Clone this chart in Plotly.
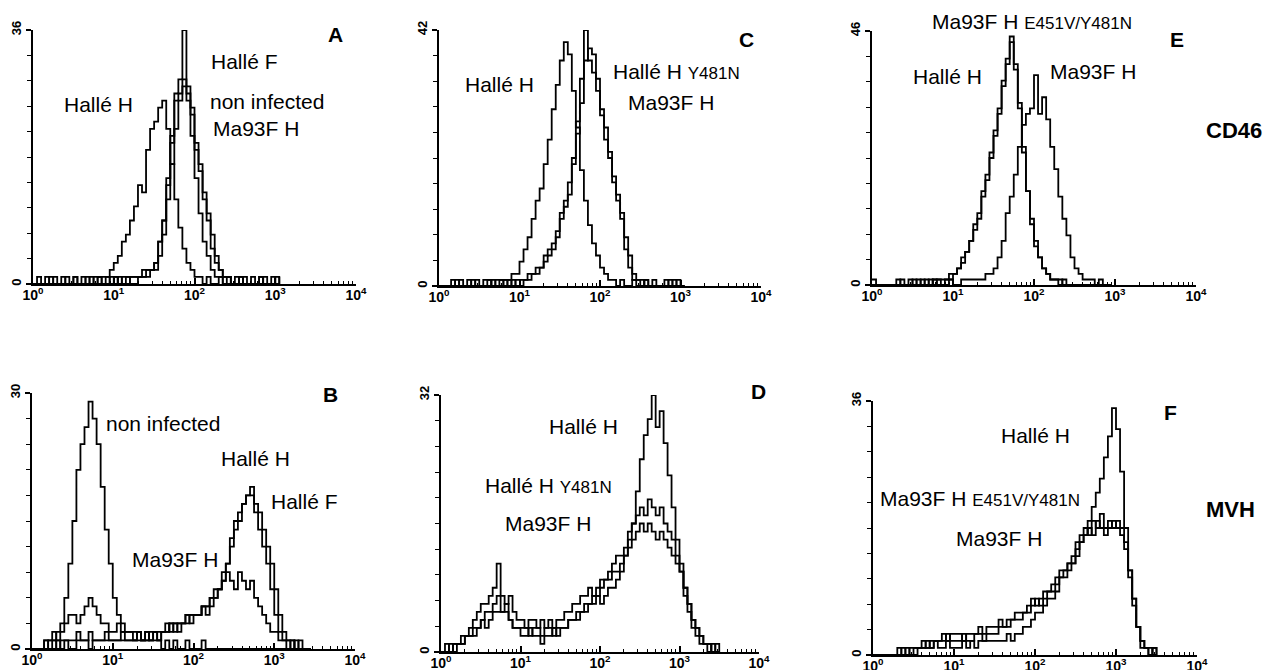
import plotly.graph_objects as go

# ---------------- data: cell counts per log-fluorescence channel ----------------
# channel i is at log10(fluorescence) = i * 0.05 (10^0 ... 10^4)
LOG_STEP = 0.05

# Panel A (CD46, y max 36)
A_HALLE_H = [0,0,0,1,0,0,0,1,0,0, 1,0,0,1,0,1,1,1,1,2, 3,4,6,7,9,11,14,13,19,22,
             23,25,26,22,17,12,8,5,3,2, 1,1,0,1,0,0,1,0,0,0, 0,1,0,0,0,0,1,0,0,0,1,0]
A_HALLE_F = [0,0,0,0,0,1,0,0,0,0, 0,0,1,0,0,0,1,0,0,1, 1,0,1,1,1,1,1,2,2,2,
             3,6,9,14,21,27,29,36,28,21, 15,10,6,4,2,1,1,0,1,0, 0,0,1,0,0,0,0,1,0,0,0,1]
A_NON_INF = [0,1,0,0,0,0,0,0,1,0, 0,0,0,0,1,0,0,0,1,0, 0,1,0,0,1,1,1,1,2,2,
             3,6,9,15,20,26,27,29,27,25, 19,16,12,9,5,3,2,1,1,0, 1,0,0,0,1,0,0,0,0,1,0,0]
A_MA93F_H = [0,0,0,0,1,0,0,0,0,0, 1,0,0,0,0,0,1,0,0,0, 1,0,0,1,0,0,1,1,1,2,
             2,4,7,12,17,22,26,28,26,24, 20,17,13,10,7,4,2,1,1,0, 0,1,0,0,0,0,1,0,0,0,0,0]

# Panel C (CD46, y max 42)
C_HALLE_H = [0,0,0,0,1,0,0,1,0,0, 0,1,1,0,1,1,1,1,2,2, 4,6,8,11,14,16,20,24,29,33,
             37,40,38,32,26,19,14,10,7,5, 3,2,1,1,0,1,0,0,1,0, 0,1,0,0,0,0,0,1,0,0,0,0]
C_HALLE_H_Y481N = [0,0,0,0,0,1,0,0,1,0, 0,0,1,0,0,1,0,1,0,1, 1,1,2,2,3,3,4,5,7,8,
                   11,13,17,21,27,34,42,37,35,32, 28,24,21,17,14,11,6,3,1,1, 0,1,0,0,0,0,1,0,0,1,0,0]
C_MA93F_H = [0,0,0,1,0,0,0,0,0,1, 0,0,0,1,0,0,1,0,1,0, 0,1,1,2,2,3,5,6,6,9,
             12,14,15,20,25,30,37,39,38,34, 29,26,22,18,15,12,8,5,2,1, 1,0,0,1,0,0,0,0,1,0,0,0]

# Panel E (CD46, y max 46)
E_HALLE_H = [1,0,0,0,0,0,0,0,0,1, 0,0,1,0,1,0,1,1,1,2, 2,3,4,6,8,10,13,16,20,23,
             27,32,36,40,45,39,32,25,17,11, 8,5,3,2,1,1,0,1,0,0, 0,0,0,0,0,0,0,0,0,0]
E_MA93F_H_E451V_Y481N = [0,0,0,0,0,0,1,0,0,0, 1,0,0,1,0,1,1,0,1,1, 2,3,5,6,8,11,12,17,19,24,
                         28,31,37,41,44,40,33,24,17,12, 7,5,3,2,1,1,1,0,0,0, 0,0,0,0,0,0,0,0,0,0]
E_MA93F_H = [0,0,0,0,0,0,0,1,0,0, 0,1,0,0,0,1,0,0,0,1, 0,0,1,1,1,1,1,1,2,2,
             3,5,8,13,16,20,25,29,31,32, 38,31,34,30,25,21,16,12,9,5, 3,2,1,1,1,0,1,0,0,0]

# Panel B (MVH, y max 30)
B_NON_INF = [0,0,0,1,1,1,2,3,6,10, 15,21,24,26,29,27,24,19,14,10, 6,4,3,2,2,2,2,1,2,1,
             1,1,0,1,0,1,0,0,1,0, 0,0,1,0,0,0,0,0,0,0, 0,0,0,0,0,0,0,0,0,0, 0,0,0,0,0,0,0,0,0,0]
B_MA93F_H = [0,0,0,0,1,2,1,2,3,4, 4,3,4,5,6,5,4,3,3,2, 2,3,2,2,2,1,2,1,1,1,
             2,1,2,2,3,2,3,3,4,4, 4,4,5,5,6,7,7,8,9,8, 7,9,8,7,8,6,5,4,3,2, 2,1,1,0,1,0,0,0,0,0]
B_HALLE_H = [0,0,0,0,0,1,0,1,1,1, 1,2,1,1,2,1,1,1,2,1, 1,1,1,1,1,1,1,1,1,2,
             2,2,2,3,2,3,3,3,4,3, 4,4,5,5,6,6,7,9,10,13, 15,16,17,18,18,16,14,12,10,7, 4,2,1,1,0,1,0,0,0,0]
B_HALLE_F = [0,0,0,1,0,0,1,0,1,0, 0,1,1,1,0,1,1,1,1,1, 1,1,2,1,1,1,2,1,2,1,
             2,1,2,2,3,3,2,3,3,4, 4,4,5,4,5,6,7,8,10,12, 14,15,17,18,19,17,16,14,12,10, 7,4,2,1,1,0,1,0,0,0]

# Panel D (MVH, y max 32)
D_HALLE_H = [0,0,1,0,1,1,2,2,3,3, 4,5,5,6,7,5,5,4,3,3, 3,3,2,3,3,2,3,3,2,3,
             3,3,4,4,4,5,5,6,6,7, 6,7,8,8,9,10,12,14,16,20, 24,27,29,32,28,30,26,22,18,14,
             10,8,6,4,3,2,1,1,0,1, 0]
D_HALLE_H_Y481N = [0,1,0,1,1,2,2,3,4,5, 6,6,7,8,11,7,6,7,5,4, 4,3,4,4,3,4,3,4,3,4,
                   4,5,5,6,6,7,7,8,7,8, 9,9,10,11,12,12,13,15,16,17, 18,17,19,18,17,18,16,15,14,12,
                   11,8,6,4,3,2,1,1,0,0, 0]
D_MA93F_H = [0,0,0,1,1,1,2,2,2,3, 4,3,4,5,5,5,6,4,3,3, 2,2,3,2,2,1,2,2,3,2,
             3,3,4,4,5,5,6,6,7,7, 8,9,9,10,10,11,12,13,14,15, 16,15,16,15,14,15,14,13,12,11,
             10,7,5,3,2,1,1,0,1,0, 0]

# Panel F (MVH, y max 36)
F_HALLE_H = [0,0,0,0,0,0,0,0,1,0, 1,1,1,2,1,2,2,2,3,2, 2,2,3,2,2,3,3,2,3,3,
             3,4,4,4,5,5,5,6,6,7, 8,7,8,9,9,10,11,11,12,13, 14,16,17,19,21,23,25,28,31,35,
             32,26,18,12,8,4,1,1,0,1, 0]
F_MA93F_H_E451V_Y481N = [0,0,0,0,0,0,1,0,0,1, 1,1,2,1,2,2,2,3,2,3, 3,3,2,3,3,3,4,3,4,4,
                         4,5,4,5,5,6,6,6,7,8, 7,8,9,9,10,11,12,12,13,13, 15,17,18,17,19,18,20,18,19,18,
                         19,18,16,12,8,4,2,1,1,0, 0]
F_MA93F_H = [0,0,0,0,0,0,0,1,0,0, 0,1,1,1,1,2,1,1,2,1, 1,1,2,1,2,1,2,2,2,2,
             2,2,2,3,2,3,3,4,4,5, 6,6,7,8,8,9,11,12,13,14, 16,16,17,18,17,19,18,17,18,19,
             18,17,15,11,7,4,2,1,0,1, 0]

X_TICK_TEXT = ["10<sup>0</sup>", "10<sup>1</sup>", "10<sup>2</sup>", "10<sup>3</sup>", "10<sup>4</sup>"]

# ---------------- layout helpers ----------------
# the page body has an 8 px margin; the figure keeps clear of the right edge
# and runs to the bottom edge of the window
PAGE_OFFSET = 8
WIN_W, WIN_H = 1271, 670
W, H = WIN_W - 2 * PAGE_OFFSET, WIN_H - PAGE_OFFSET
FONT = "Liberation Sans, Arial, Helvetica, sans-serif"


def fx(px):
    return (px - PAGE_OFFSET) / W


def fy(py):
    return 1 - (py - PAGE_OFFSET) / H


# panel boxes in window pixels: left, right, top, bottom
PANELS = [
    ("A", 36, [A_HALLE_H, A_HALLE_F, A_NON_INF, A_MA93F_H], (33, 356, 30, 284)),
    ("C", 42, [C_HALLE_H, C_HALLE_H_Y481N, C_MA93F_H], (439, 761, 30, 286)),
    ("E", 46, [E_HALLE_H, E_MA93F_H_E451V_Y481N, E_MA93F_H], (872, 1196, 31, 285)),
    ("B", 30, [B_NON_INF, B_MA93F_H, B_HALLE_H, B_HALLE_F], (32, 355, 393, 649)),
    ("D", 32, [D_HALLE_H, D_HALLE_H_Y481N, D_MA93F_H], (441, 759, 395, 652)),
    ("F", 36, [F_HALLE_H, F_MA93F_H_E451V_Y481N, F_MA93F_H], (873, 1197, 401, 655)),
]

fig = go.Figure()
layout = dict(
    width=W, height=H, autosize=False,
    margin=dict(l=0, r=0, t=0, b=0, autoexpand=False),
    paper_bgcolor="white", plot_bgcolor="white",
    showlegend=False,
    font=dict(family=FONT, color="black"),
)

minor_x = [m * 10 ** d for d in range(4) for m in range(2, 10)]

for k, (key, ymax, series, (l, r, t, b)) in enumerate(PANELS):
    n = k + 1
    xa = "x" if n == 1 else f"x{n}"
    ya = "y" if n == 1 else f"y{n}"
    for vals in series:
        xs = [10 ** (i * LOG_STEP) for i in range(len(vals))]
        fig.add_trace(go.Scatter(
            x=xs, y=vals, mode="lines", line=dict(color="black", width=1.8, shape="hv"),
            xaxis=xa, yaxis=ya, hoverinfo="skip"))
    layout["xaxis" if n == 1 else f"xaxis{n}"] = dict(
        domain=[fx(l), fx(r)], anchor=ya, type="log", range=[0, 4],
        tickvals=[1, 10, 100, 1000, 10000], ticktext=X_TICK_TEXT,
        ticks="inside", ticklen=6, tickwidth=1.5, tickcolor="black",
        minor=dict(ticks="inside", ticklen=3, tickwidth=1, tickcolor="black", tickvals=minor_x),
        showline=True, linecolor="black", linewidth=2, showgrid=False, zeroline=False,
        tickfont=dict(size=14, family=FONT, weight="bold", color="black"),
        ticklabelstandoff=-3,
        automargin=False, fixedrange=True,
    )
    layout["yaxis" if n == 1 else f"yaxis{n}"] = dict(
        domain=[fy(b), fy(t)], anchor=xa, range=[0, ymax],
        tickvals=[0, ymax], ticktext=["0", str(ymax)], tickangle=-90,
        ticks="outside", ticklen=5, tickwidth=1.5, tickcolor="black",
        minor=dict(ticks="outside", ticklen=4, tickwidth=1, tickcolor="black",
                   tick0=0, dtick=ymax / 10),
        showline=True, linecolor="black", linewidth=2, showgrid=False, zeroline=False,
        tickfont=dict(size=13, family=FONT, weight="bold", color="black"),
        automargin=False, fixedrange=True,
    )

SMALL = "<span style='font-size:17px'>{}</span>"
LABELS = [
    # text, x px, y px, size, bold
    ("A", 335, 34, 21, True), ("Hallé F", 245, 61, 21, False), ("non infected", 267, 101, 21, False),
    ("Ma93F H", 256, 129, 21, False), ("Hallé H", 98, 105, 21, False),
    ("C", 746, 39, 21, True), ("Hallé H", 500, 84, 21, False),
    ("Hallé H " + SMALL.format("Y481N"), 677, 71, 21, False), ("Ma93F H", 671, 102, 21, False),
    ("Ma93F H " + SMALL.format("E451V/Y481N"), 1032, 21, 21, False), ("E", 1177, 39, 21, True),
    ("Hallé H", 947, 77, 21, False), ("Ma93F H", 1093, 72, 21, False), ("CD46", 1234, 131, 22, True),
    ("B", 330, 394, 21, True), ("non infected", 163, 423, 21, False), ("Hallé H", 255, 458, 21, False),
    ("Hallé F", 304, 501, 21, False), ("Ma93F H", 175, 559, 21, False),
    ("D", 758, 391, 21, True), ("Hallé H", 583, 426, 21, False),
    ("Hallé H " + SMALL.format("Y481N"), 548, 485, 21, False), ("Ma93F H", 548, 523, 21, False),
    ("F", 1170, 412, 21, True), ("Hallé H", 1035, 435, 21, False),
    ("Ma93F H " + SMALL.format("E451V/Y481N"), 980, 498, 21, False), ("Ma93F H", 999, 538, 21, False),
    ("MVH", 1230, 509, 22, True),
]
layout["annotations"] = [
    dict(text=txt, x=fx(xp), y=fy(yp), xref="paper", yref="paper",
         xanchor="center", yanchor="middle", showarrow=False,
         font=dict(size=sz, family=FONT, color="black", weight="bold" if bold else "normal"))
    for txt, xp, yp, sz, bold in LABELS
]

fig.update_layout(**layout)
fig.write_html("out.html")
